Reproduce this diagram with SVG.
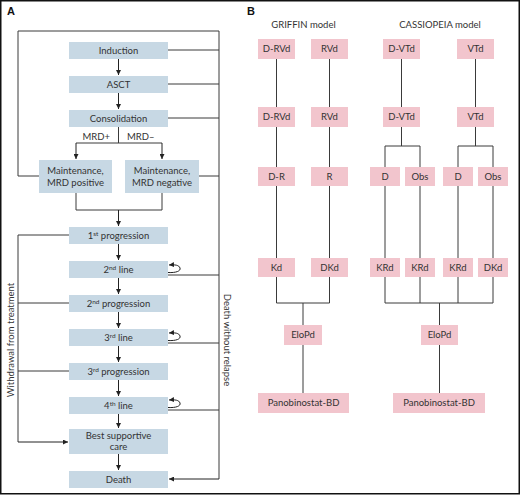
<svg xmlns="http://www.w3.org/2000/svg" width="520" height="495" viewBox="0 0 520 495">
<defs>
<marker id="ah" viewBox="0 0 10 10" refX="10" refY="5" markerWidth="5" markerHeight="5" orient="auto" markerUnits="userSpaceOnUse">
<path d="M0,0 L10,5 L0,10 z" fill="#222"/>
</marker>
<style>
.b{fill:#c7d8e4}
.p{fill:#f2c5cd}
.t{font-family:Lato,"Open Sans","Liberation Sans",sans-serif;font-size:9.5px;fill:#333;text-anchor:middle}
.c{fill:none;stroke:#3a3a3a;stroke-width:1}
.a{fill:none;stroke:#222;stroke-width:1;marker-end:url(#ah)}
.sup{font-size:6.5px}
.h{font-family:"Liberation Sans",Arial,sans-serif;font-weight:bold;font-size:11px;fill:#111}
</style>
</defs>
<rect x="0.75" y="0.75" width="518.5" height="493" fill="#fff" stroke="#111" stroke-width="1.5"/>
<text class="h" x="7" y="15">A</text>
<text class="h" x="247" y="15">B</text>

<g id="connectors">
<!-- panel A -->
<path class="c" d="M39,176 H18 V31 H219 V479"/>
<path class="a" d="M219,479 H169"/>
<path class="c" d="M168,50 H219 M168,84 H219 M168,118 H219 M199,176 H219 M168,275 H219 M168,343 H219 M168,410 H219"/>
<path class="c" d="M69,235 H18 V442 M69,303 H18 M69,371 H18"/>
<path class="a" d="M18,442 H68"/>
<path class="a" d="M118.5,59 V75"/>
<path class="a" d="M118.5,93 V109"/>
<path class="c" d="M118.5,127 V143 M76,143 H162"/>
<path class="a" d="M76,143 V159"/>
<path class="a" d="M162,143 V159"/>
<path class="c" d="M76,193 V210 M162,193 V210 M76,210 H162"/>
<path class="a" d="M118.5,210 V226"/>
<path class="a" d="M118.5,244 V260"/>
<path class="a" d="M118.5,278 V294"/>
<path class="a" d="M118.5,312 V328"/>
<path class="a" d="M118.5,346 V362"/>
<path class="a" d="M118.5,380 V396"/>
<path class="a" d="M118.5,414 V428"/>
<path class="a" d="M118.5,454 V470"/>
<path class="a" d="M168,272.5 C176,273 181,271 180,268 C179,265 175,264.5 169,265"/>
<path class="a" d="M168,340.5 C176,341 181,339 180,336 C179,333 175,332.5 169,333"/>
<path class="a" d="M168,407.5 C176,408 181,406 180,403 C179,400 175,399.5 169,400"/>
<!-- panel B -->
<path class="c" d="M276.5,59 V258 M329.5,59 V258 M276.5,277 V303 H329.5 V277 M303,303 V325 M303,345 V393"/>
<path class="c" d="M401.5,59 V146 M385,146 H420 M385,146 V258 M420,146 V258"/>
<path class="c" d="M475.5,59 V146 M458,146 H493 M458,146 V258 M493,146 V258"/>
<path class="c" d="M385,277 V303 H493 M420,277 V303 M458,277 V303 M493,277 V303 M439.5,303 V325 M439.5,345 V393"/>
</g>

<text class="t" x="110" y="140" style="text-anchor:end">MRD+</text>
<text class="t" x="127" y="140" style="text-anchor:start">MRD–</text>
<text class="t" transform="translate(14,340) rotate(-90)">Withdrawal from treatment</text>
<text class="t" transform="translate(224,340) rotate(90)">Death without relapse</text>

<g id="induction"><rect class="b" x="69" y="42" width="99" height="17"/><text class="t" x="118.5" y="53.5">Induction</text></g>
<g id="asct"><rect class="b" x="69" y="76" width="99" height="17"/><text class="t" x="118.5" y="87.5">ASCT</text></g>
<g id="consolidation"><rect class="b" x="69" y="110" width="99" height="17"/><text class="t" x="118.5" y="121.5">Consolidation</text></g>
<g id="maint-pos"><rect class="b" x="39" y="160" width="73" height="33"/><text class="t" x="75.5" y="174">Maintenance,</text><text class="t" x="75.5" y="185.5">MRD positive</text></g>
<g id="maint-neg"><rect class="b" x="125" y="160" width="74" height="33"/><text class="t" x="162" y="174">Maintenance,</text><text class="t" x="162" y="185.5">MRD negative</text></g>
<g id="prog1"><rect class="b" x="69" y="227" width="99" height="17"/><text class="t" x="118.5" y="238.5">1<tspan class="sup" dy="-3">st</tspan><tspan dy="3"> progression</tspan></text></g>
<g id="line2"><rect class="b" x="69" y="261" width="99" height="17"/><text class="t" x="118.5" y="272.5">2<tspan class="sup" dy="-3">nd</tspan><tspan dy="3"> line</tspan></text></g>
<g id="prog2"><rect class="b" x="69" y="295" width="99" height="17"/><text class="t" x="118.5" y="306.5">2<tspan class="sup" dy="-3">nd</tspan><tspan dy="3"> progression</tspan></text></g>
<g id="line3"><rect class="b" x="69" y="329" width="99" height="17"/><text class="t" x="118.5" y="340.5">3<tspan class="sup" dy="-3">rd</tspan><tspan dy="3"> line</tspan></text></g>
<g id="prog3"><rect class="b" x="69" y="363" width="99" height="17"/><text class="t" x="118.5" y="374.5">3<tspan class="sup" dy="-3">rd</tspan><tspan dy="3"> progression</tspan></text></g>
<g id="line4"><rect class="b" x="69" y="397" width="99" height="17"/><text class="t" x="118.5" y="408.5">4<tspan class="sup" dy="-3">th</tspan><tspan dy="3"> line</tspan></text></g>
<g id="bsc"><rect class="b" x="69" y="429" width="99" height="25"/><text class="t" x="118.5" y="439">Best supportive</text><text class="t" x="118.5" y="450">care</text></g>
<g id="death"><rect class="b" x="69" y="471" width="99" height="17"/><text class="t" x="118.5" y="482.5">Death</text></g>

<text class="t" x="303.5" y="28">GRIFFIN model</text>
<text class="t" x="440" y="28">CASSIOPEIA model</text>

<g id="g-r1c1"><rect class="p" x="258" y="39" width="37" height="20"/><text class="t" x="276.5" y="52">D-RVd</text></g>
<g id="g-r1c2"><rect class="p" x="311" y="39" width="37" height="20"/><text class="t" x="329.5" y="52">RVd</text></g>
<g id="c-r1c1"><rect class="p" x="383" y="39" width="37" height="20"/><text class="t" x="401.5" y="52">D-VTd</text></g>
<g id="c-r1c2"><rect class="p" x="457" y="39" width="37" height="20"/><text class="t" x="475.5" y="52">VTd</text></g>

<g id="g-r2c1"><rect class="p" x="258" y="107" width="37" height="20"/><text class="t" x="276.5" y="120">D-RVd</text></g>
<g id="g-r2c2"><rect class="p" x="311" y="107" width="37" height="20"/><text class="t" x="329.5" y="120">RVd</text></g>
<g id="c-r2c1"><rect class="p" x="383" y="107" width="37" height="20"/><text class="t" x="401.5" y="120">D-VTd</text></g>
<g id="c-r2c2"><rect class="p" x="457" y="107" width="37" height="20"/><text class="t" x="475.5" y="120">VTd</text></g>

<g id="g-r3c1"><rect class="p" x="258" y="167" width="37" height="19"/><text class="t" x="276.5" y="179.5">D-R</text></g>
<g id="g-r3c2"><rect class="p" x="311" y="167" width="37" height="19"/><text class="t" x="329.5" y="179.5">R</text></g>
<g id="c-r3c1"><rect class="p" x="370" y="167" width="30" height="19"/><text class="t" x="385" y="179.5">D</text></g>
<g id="c-r3c2"><rect class="p" x="405" y="167" width="30" height="19"/><text class="t" x="420" y="179.5">Obs</text></g>
<g id="c-r3c3"><rect class="p" x="443" y="167" width="30" height="19"/><text class="t" x="458" y="179.5">D</text></g>
<g id="c-r3c4"><rect class="p" x="478" y="167" width="30" height="19"/><text class="t" x="493" y="179.5">Obs</text></g>

<g id="g-r4c1"><rect class="p" x="258" y="258" width="37" height="19"/><text class="t" x="276.5" y="270.5">Kd</text></g>
<g id="g-r4c2"><rect class="p" x="311" y="258" width="37" height="19"/><text class="t" x="329.5" y="270.5">DKd</text></g>
<g id="c-r4c1"><rect class="p" x="370" y="258" width="30" height="19"/><text class="t" x="385" y="270.5">KRd</text></g>
<g id="c-r4c2"><rect class="p" x="405" y="258" width="30" height="19"/><text class="t" x="420" y="270.5">KRd</text></g>
<g id="c-r4c3"><rect class="p" x="443" y="258" width="30" height="19"/><text class="t" x="458" y="270.5">KRd</text></g>
<g id="c-r4c4"><rect class="p" x="478" y="258" width="30" height="19"/><text class="t" x="493" y="270.5">DKd</text></g>

<g id="g-elopd"><rect class="p" x="284" y="325" width="38" height="20"/><text class="t" x="303" y="338">EloPd</text></g>
<g id="c-elopd"><rect class="p" x="421" y="325" width="37" height="20"/><text class="t" x="439.5" y="338">EloPd</text></g>
<g id="g-pano"><rect class="p" x="258" y="393" width="91" height="20"/><text class="t" x="303.5" y="406">Panobinostat-BD</text></g>
<g id="c-pano"><rect class="p" x="393" y="393" width="92" height="20"/><text class="t" x="439" y="406">Panobinostat-BD</text></g>
</svg>
